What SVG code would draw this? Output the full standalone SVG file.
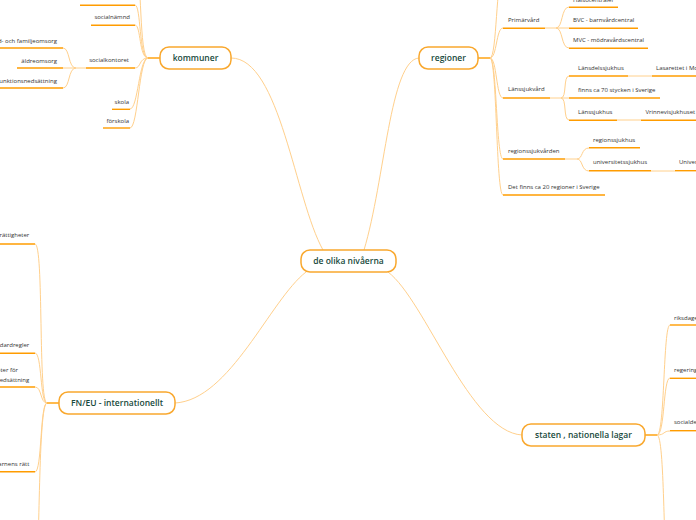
<svg xmlns="http://www.w3.org/2000/svg" width="696" height="520" viewBox="0 0 696 520">
<style>
.c{fill:none;stroke:#ffd08c;stroke-width:1}
.u{fill:none;stroke:#ff9c00;stroke-width:1.4}
.box{fill:#fff;stroke:#f9a82e;stroke-width:1.5}
.t{font-family:"Open Sans","DejaVu Sans",sans-serif;font-size:8.5px;font-weight:600;fill:#17493b;text-anchor:middle}
.s{font-family:"Open Sans","DejaVu Sans",sans-serif;font-size:6px;fill:#333}
.e{text-anchor:end}
</style>
<rect width="696" height="520" fill="#fff"/>
<g id="connectors">
<path class="c" d="M231,58 C280,58 295,200 323,250"/>
<path class="c" d="M364,250 C385,180 390,60 419,58"/>
<path class="c" d="M306,272 C270,300 230,400 175,403"/>
<path class="c" d="M388,272 C425,300 470,432 522,435"/>
<path class="u" d="M148,58 H160"/>
<path class="c" d="M148,58 C139,58 142,-30 136,-30"/>
<path class="c" d="M148,58 C139,58 141,5 135,5"/>
<path class="c" d="M148,58 C139,58 141,25 135,25"/>
<path class="c" d="M148,58 C139,58 141,68 135,68"/>
<path class="c" d="M148,58 C139,58 138,109 130,109"/>
<path class="c" d="M148,58 C139,58 138,128 130,128"/>
<path class="c" d="M86,68 H76 C68,68 70,48 63,48"/>
<path class="c" d="M76,68 H63"/>
<path class="c" d="M76,68 C68,68 70,88 63,88"/>
<path class="u" d="M478,58 H490"/>
<path class="c" d="M490,58 C497,58 496,-25 503,-25"/>
<path class="c" d="M490,58 C497,58 496,28 503,28"/>
<path class="c" d="M490,58 C497,58 496,98 503,98"/>
<path class="c" d="M490,58 C497,58 496,159 503,159"/>
<path class="c" d="M490,58 C497,58 496,195 503,195"/>
<path class="c" d="M545,28 H556 C563,28 561,7 569,7"/>
<path class="c" d="M556,28 H569"/>
<path class="c" d="M556,28 C563,28 561,48 569,48"/>
<path class="c" d="M550,98 H561 C567,98 563,76 569,76"/>
<path class="c" d="M561,98 H569"/>
<path class="c" d="M561,98 C567,98 563,120 569,120"/>
<path class="c" d="M628,76 H652"/>
<path class="c" d="M617,120 H641"/>
<path class="c" d="M565,159 H577 C583,159 581,148 589,148"/>
<path class="c" d="M577,159 C583,159 581,171 589,171"/>
<path class="c" d="M651,171 H675"/>
<path class="u" d="M47,403 H59"/>
<path class="c" d="M47,403 C38,403 44,244 35,244"/>
<path class="c" d="M47,403 C40,403 42,353 35,353"/>
<path class="c" d="M47,403 C40,403 42,387 35,387"/>
<path class="c" d="M47,403 C40,403 42,472 35,472"/>
<path class="c" d="M47,403 C38,403 40,560 36,570"/>
<path class="u" d="M645,435 H657"/>
<path class="c" d="M657,435 C665,435 663,325 670,325"/>
<path class="c" d="M657,435 C665,435 663,378 670,378"/>
<path class="c" d="M657,435 C665,435 663,431 670,431"/>
<path class="c" d="M657,435 C665,435 663,560 668,580"/>
</g>
<g id="center">
<rect class="box" x="301" y="250" width="95" height="22" rx="9"/>
<text class="t" x="348.5" y="264">de olika nivåerna</text>
</g>
<g id="kommuner">
<rect class="box" x="160" y="47" width="71" height="22" rx="9"/>
<text class="t" x="195.5" y="61">kommuner</text>
</g>
<g id="regioner">
<rect class="box" x="419" y="47" width="59" height="22" rx="9"/>
<text class="t" x="448.5" y="61">regioner</text>
</g>
<g id="fneu">
<rect class="box" x="59" y="392" width="116" height="22" rx="9"/>
<text class="t" x="117" y="406">FN/EU - internationellt</text>
</g>
<g id="staten">
<rect class="box" x="522" y="424" width="123" height="22" rx="9"/>
<text class="t" x="583.5" y="438">staten , nationella lagar</text>
</g>
<g id="k-kommunstyrelse"><text class="s e" x="130" y="-1">kommunstyrelse</text><path class="u" d="M80,5.3 H135"/></g>
<g id="k-socialnamnd"><text class="s e" x="130" y="19">socialnämnd</text><path class="u" d="M91,25.3 H135"/></g>
<g id="k-socialkontoret"><text class="s e" x="129" y="62">socialkontoret</text><path class="u" d="M86,68 H135"/></g>
<g id="k-ifo"><text class="s e" x="57" y="42.5">Individ- och familjeomsorg</text><path class="u" d="M0,48 H63"/></g>
<g id="k-aldreomsorg"><text class="s e" x="57" y="62.5">äldreomsorg</text><path class="u" d="M17,68 H63"/></g>
<g id="k-funktion"><text class="s e" x="57" y="82.5">funktionsnedsättning</text><path class="u" d="M0,88 H63"/></g>
<g id="k-skola"><text class="s e" x="129" y="103.5">skola</text><path class="u" d="M112,109.3 H130"/></g>
<g id="k-forskola"><text class="s e" x="129" y="122.5">förskola</text><path class="u" d="M103,128 H130"/></g>
<g id="r-primarvard"><text class="s" x="508" y="21.7">Primärvård</text><path class="u" d="M503,28.3 H545"/></g>
<g id="r-halsocentraler"><text class="s" x="573" y="1.5">Hälsocentraler</text><path class="u" d="M569,7.3 H618"/></g>
<g id="r-bvc"><text class="s" x="573" y="22">BVC - barnvårdcentral</text><path class="u" d="M569,28.3 H638"/></g>
<g id="r-mvc"><text class="s" x="573" y="42">MVC - mödravårdscentral</text><path class="u" d="M569,48.3 H648"/></g>
<g id="r-lanssjukvard"><text class="s" x="508" y="91">Länssjukvård</text><path class="u" d="M503,98 H550"/></g>
<g id="r-lansdel"><text class="s" x="578" y="69.5">Länsdelssjukhus</text><path class="u" d="M569,76 H628"/></g>
<g id="r-lasarettet"><text class="s" x="656" y="69.5">Lasarettet i Motala</text><path class="u" d="M652,76 H700"/></g>
<g id="r-finns70"><text class="s" x="578" y="91.5">finns ca 70 stycken i Sverige</text><path class="u" d="M569,98 H660"/></g>
<g id="r-lanssjukhus"><text class="s" x="578" y="114">Länssjukhus</text><path class="u" d="M569,120.3 H617"/></g>
<g id="r-vrinnevi"><text class="s" x="645.5" y="114">Vrinnevisjukhuset i Norrköping</text><path class="u" d="M641,120.3 H700"/></g>
<g id="r-regionssjukvarden"><text class="s" x="508" y="152.5">regionssjukvården</text><path class="u" d="M503,159 H565"/></g>
<g id="r-regionssjukhus"><text class="s" x="593" y="141.5">regionssjukhus</text><path class="u" d="M589,147.7 H640"/></g>
<g id="r-universitetssjukhus"><text class="s" x="593" y="164">universitetssjukhus</text><path class="u" d="M589,170.7 H651"/></g>
<g id="r-us"><text class="s" x="679" y="164">Universitetssjukhuset i Linköping</text><path class="u" d="M675,170.7 H700"/></g>
<g id="r-finns20"><text class="s" x="508" y="188.5">Det finns ca 20 regioner i Sverige</text><path class="u" d="M503,195 H605"/></g>
<g id="f-rattigheter"><text class="s e" x="29.3" y="237">rättigheter</text><path class="u" d="M0,244 H35"/></g>
<g id="f-standardregler"><text class="s e" x="29.3" y="346.5">standardregler</text><path class="u" d="M0,353.3 H35"/></g>
<g id="f-konvention"><text class="s e" x="18" y="372">rättigheter för</text><text class="s e" x="29.3" y="382">funktionsnedsättning</text><path class="u" d="M0,387 H35"/></g>
<g id="f-barnens"><text class="s e" x="29.3" y="466">barnens rätt</text><path class="u" d="M0,471.7 H35"/></g>
<g id="s-riksdagen"><text class="s" x="674" y="319.5">riksdagen</text><path class="u" d="M670,325 H700"/></g>
<g id="s-regeringen"><text class="s" x="674" y="372">regeringen</text><path class="u" d="M670,378.3 H700"/></g>
<g id="s-socialdep"><text class="s" x="674" y="424">socialdepartementet</text><path class="u" d="M670,430.7 H700"/></g>
</svg>
